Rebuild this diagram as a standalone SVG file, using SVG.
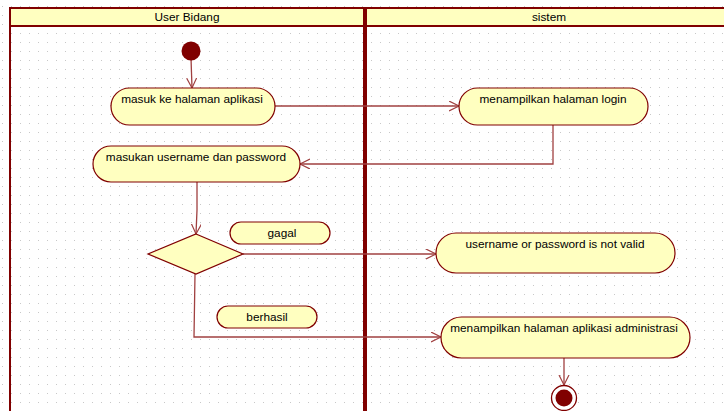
<svg xmlns="http://www.w3.org/2000/svg" width="724" height="411" viewBox="0 0 724 411">
<style>
.node{fill:#FFFFC0;stroke:#800000;stroke-width:1.2}
.lbl{fill:#FFFFC0;stroke:#800000;stroke-width:1.2}
.t{font-family:"Liberation Sans",Arial,sans-serif;font-size:11.8px;fill:#000;text-anchor:middle}
.c{fill:none;stroke:#A04040;stroke-width:1.3}
.lane{stroke:#800000;fill:none}
</style>
<defs>
<pattern id="grid" x="2" y="6" width="9" height="9" patternUnits="userSpaceOnUse">
<rect x="0" y="0" width="1" height="1" fill="#c8c8c8"/>
</pattern>
<marker id="arr" markerWidth="12" markerHeight="12" refX="10" refY="5" orient="auto" markerUnits="userSpaceOnUse">
<path d="M0,0 L10,5 L0,10" fill="none" stroke="#A04040" stroke-width="1.2"/>
</marker>
</defs>
<rect width="724" height="411" fill="#ffffff"/>
<rect width="724" height="411" fill="url(#grid)"/>
<g id="swimlanes">
<rect x="10" y="8" width="714" height="18" fill="#FFFFC0"/>
<line x1="10" y1="8" x2="724" y2="8" class="lane" stroke-width="2"/>
<line x1="10" y1="26" x2="724" y2="26" class="lane" stroke-width="2"/>
<line x1="10" y1="7" x2="10" y2="411" class="lane" stroke-width="2"/>
<line x1="365" y1="7" x2="365" y2="411" class="lane" stroke-width="4"/>
<text class="t" x="187" y="21">User Bidang</text>
<text class="t" x="549" y="21">sistem</text>
</g>
<g id="connectors">
<line class="c" x1="191" y1="58" x2="192" y2="88" marker-end="url(#arr)"/>
<line class="c" x1="275" y1="106" x2="459" y2="106" marker-end="url(#arr)"/>
<polyline class="c" points="553,125 553,164 300,164" marker-end="url(#arr)"/>
<polyline class="c" points="197,182 197,210 196,234" marker-end="url(#arr)"/>
<line class="c" x1="243" y1="254" x2="436" y2="254" marker-end="url(#arr)"/>
<polyline class="c" points="195,274 194,337 441,337" marker-end="url(#arr)"/>
<line class="c" x1="564" y1="358" x2="564" y2="385" marker-end="url(#arr)"/>
</g>
<g id="start"><circle cx="191" cy="51" r="9.5" fill="#800000"/></g>
<g id="masuk">
<rect class="node" x="111" y="88" width="164" height="37" rx="18.5"/>
<text class="t" x="192" y="103">masuk ke halaman aplikasi</text>
</g>
<g id="login">
<rect class="node" x="459" y="88" width="189" height="37" rx="18.5"/>
<text class="t" x="553" y="103">menampilkan halaman login</text>
</g>
<g id="input">
<rect class="node" x="93" y="146" width="207" height="36" rx="18"/>
<text class="t" x="196" y="161">masukan username dan password</text>
</g>
<g id="decision">
<polygon class="node" points="196,234 243,254 196,274 148,254"/>
</g>
<g id="gagal">
<rect class="lbl" x="230" y="222" width="100" height="22" rx="11"/>
<text class="t" x="282" y="237">gagal</text>
</g>
<g id="invalid">
<rect class="node" x="436" y="233" width="239" height="40" rx="20"/>
<text class="t" x="555" y="248">username or password is not valid</text>
</g>
<g id="berhasil">
<rect class="lbl" x="217" y="306" width="100" height="22" rx="11"/>
<text class="t" x="267" y="321">berhasil</text>
</g>
<g id="admin">
<rect class="node" x="441" y="317" width="249" height="41" rx="20.5"/>
<text class="t" x="564" y="332">menampilkan halaman aplikasi administrasi</text>
</g>
<g id="end">
<circle cx="564" cy="398" r="12.5" fill="#ffffff" stroke="#800000" stroke-width="1.3"/>
<circle cx="564" cy="398" r="8.5" fill="#800000"/>
</g>
</svg>
